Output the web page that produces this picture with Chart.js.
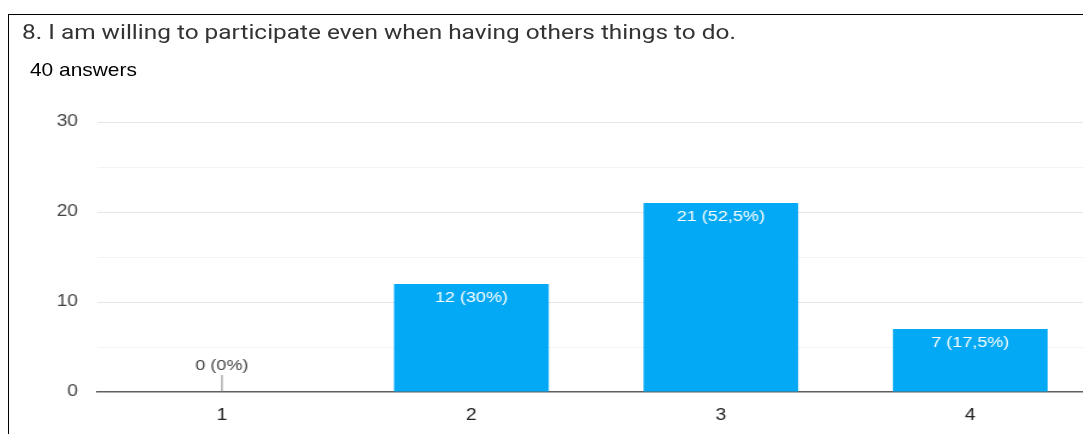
<!DOCTYPE html>
<html><head><meta charset="utf-8">
<script src="https://cdn.jsdelivr.net/npm/chart.js@4"></script>
<style>
html,body{margin:0;padding:0;width:1083px;height:434px;overflow:hidden;background:#fff;}
#frame{position:absolute;left:8px;top:14px;width:1100px;height:440px;border-top:1.5px solid #000;border-left:1.5px solid #000;z-index:2;pointer-events:none;}
#title{position:absolute;left:22px;top:22px;font-family:Roboto,sans-serif;font-size:20px;line-height:20px;color:#333;white-space:nowrap;z-index:2;transform:scaleX(1.22);transform-origin:0 0;}
#sub{position:absolute;left:30px;top:60px;font-family:"Liberation Sans",Arial,sans-serif;font-size:19px;line-height:19px;color:#000;white-space:nowrap;z-index:2;transform:scaleX(1.1);transform-origin:0 0;}
#wrap{position:absolute;left:0;top:0;width:925px;height:434px;z-index:1;transform:scaleX(1.2);transform-origin:0 0;}
</style>
</head><body>
<div id="frame"></div>
<div id="title">8. I am willing to participate even when having others things to do.</div>
<div id="sub">40 answers</div>
<div id="wrap"><canvas id="c"></canvas></div>
<script>
const categories = ['1', '2', '3', '4'];
const counts = [0, 12, 21, 7];
const totalAnswers = 40;
const yTicks = [0, 10, 20, 30];

const valueLabels = counts.map(v => {
  const pct = Math.round(v / totalAnswers * 1000) / 10;
  return v + ' (' + String(pct).replace('.', ',') + '%)';
});

const labelPlugin = {
  id: 'barLabels',
  afterDatasetsDraw(chart) {
    const ctx = chart.ctx;
    const meta = chart.getDatasetMeta(0);
    const base = chart.scales.y.getPixelForValue(0);
    ctx.save();
    ctx.font = '15px "Liberation Sans", Arial, sans-serif';
    ctx.textAlign = 'center';
    ctx.textBaseline = 'middle';
    meta.data.forEach((bar, i) => {
      if (counts[i] > 0) {
        ctx.fillStyle = '#ffffff';
        ctx.fillText(valueLabels[i], bar.x, bar.y + 14);
      } else {
        ctx.strokeStyle = '#777';
        ctx.lineWidth = 0.9;
        ctx.beginPath();
        ctx.moveTo(bar.x, base - 17);
        ctx.lineTo(bar.x, base);
        ctx.stroke();
        ctx.fillStyle = '#444';
        ctx.fillText(valueLabels[i], bar.x, base - 26);
      }
    });
    ctx.restore();
  }
};

new Chart(document.getElementById('c'), {
  type: 'bar',
  data: {
    labels: categories,
    datasets: [{
      data: counts,
      backgroundColor: 'rgb(3,169,244)',
      borderWidth: 0,
      categoryPercentage: 1,
      barPercentage: 0.62
    }]
  },
  options: {
    responsive: true,
    maintainAspectRatio: false,
    animation: false,
    events: [],
    layout: { padding: { top: 122, right: 12.5, left: 0, bottom: 0 } },
    plugins: { legend: { display: false }, tooltip: { enabled: false } },
    scales: {
      x: {
        grid: { display: false },
        border: { display: true, color: '#5f5f5f', width: 1.5 },
        ticks: { color: '#222', padding: 6, font: { family: '"Liberation Sans", Arial, sans-serif', size: 16 } },
        afterFit(s) { s.height = 42; }
      },
      y: {
        min: 0, max: 30,
        border: { display: false },
        grid: {
          drawTicks: false,
          color: c => (c.tick.value === 0 ? 'rgba(0,0,0,0)' : (c.tick.value % 10 === 0 ? '#e6e6e6' : '#f3f3f3')),
          lineWidth: 1
        },
        ticks: {
          stepSize: 5,
          padding: 16,
          color: '#444',
          font: { family: '"Liberation Sans", Arial, sans-serif', size: 16 },
          callback: v => (yTicks.includes(v) ? String(v) : '')
        },
        afterFit(s) { s.width = 81; }
      }
    }
  },
  plugins: [labelPlugin]
});
</script>
</body></html>
